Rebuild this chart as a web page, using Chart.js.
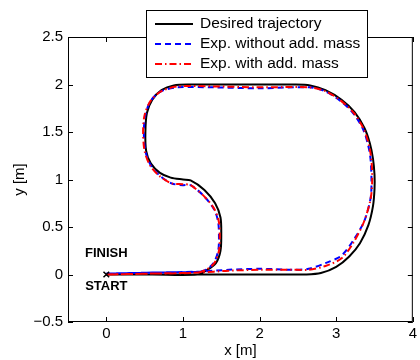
<!DOCTYPE html>
<html>
<head>
<meta charset="utf-8">
<script src="https://cdn.jsdelivr.net/npm/chart.js@4.4.1/dist/chart.umd.min.js"></script>
<style>
  body { margin: 0; background: #fff; }
  canvas { display: block; }
</style>
</head>
<body>
<canvas id="trajChart" width="420" height="360"></canvas>
<script>
// desired trajectory (closed loop, starts and ends at the origin)
const desiredX = [0, 0.6, 1.2, 1.8, 2.3, 2.6, 2.8, 3.0, 3.17, 3.31, 3.42, 3.48, 3.5, 3.5, 3.48, 3.44, 3.37, 3.24, 3.07, 2.86, 2.66, 2.45,
  2.0, 1.5, 1.1, 0.88, 0.72, 0.6, 0.53, 0.51, 0.52, 0.58, 0.7, 0.84, 1.0, 1.1, 1.28, 1.42, 1.49, 1.5, 1.49, 1.43, 1.3, 1.19, 0.6, 0];
const desiredY = [0, 0, 0, 0, 0, 0, 0.015, 0.08, 0.19, 0.33, 0.52, 0.72, 0.9, 1.05, 1.22, 1.38, 1.54, 1.71, 1.84, 1.94, 1.99, 2.0,
  2.0, 2.0, 2.0, 1.99, 1.94, 1.84, 1.7, 1.5, 1.3, 1.17, 1.07, 1.02, 1.0, 0.99, 0.89, 0.75, 0.6, 0.42, 0.25, 0.12, 0.04, 0, 0, 0];

// experiment without added mass
const noMassX = [0, 0.6, 1.2, 1.6, 2.0, 2.43, 2.64, 2.86, 3.07, 3.24, 3.37, 3.45, 3.46, 3.45, 3.42, 3.35, 3.22, 3.05, 2.85, 2.65,
  2.0, 1.4, 0.93, 0.72, 0.58, 0.51, 0.49, 0.51, 0.58, 0.7, 0.85, 1.0, 1.1, 1.28, 1.41, 1.46, 1.47, 1.46, 1.4, 1.3, 1.2, 0.6, 0];
const noMassY = [0.01, 0.02, 0.03, 0.05, 0.06, 0.05, 0.06, 0.12, 0.2, 0.38, 0.57, 0.81, 1.0, 1.2, 1.35, 1.53, 1.7, 1.83, 1.93, 1.97,
  1.96, 1.97, 1.97, 1.93, 1.83, 1.68, 1.5, 1.3, 1.15, 1.04, 0.96, 0.94, 0.94, 0.82, 0.68, 0.55, 0.4, 0.25, 0.12, 0.05, 0.03, 0.02, 0.01];

// experiment with added mass
const massX = [0, 0.6, 1.2, 1.6, 2.0, 2.4, 2.64, 2.86, 3.07, 3.22, 3.36, 3.45, 3.47, 3.46, 3.43, 3.36, 3.23, 3.06, 2.86, 2.65,
  2.0, 1.4, 0.93, 0.72, 0.58, 0.5, 0.48, 0.5, 0.57, 0.69, 0.85, 1.0, 1.1, 1.28, 1.41, 1.47, 1.48, 1.47, 1.41, 1.3, 1.2, 0.6, 0];
const massY = [0, 0.01, 0.02, 0.04, 0.05, 0.05, 0.05, 0.09, 0.17, 0.33, 0.55, 0.8, 1.0, 1.2, 1.35, 1.53, 1.7, 1.83, 1.93, 1.97,
  1.97, 1.98, 1.98, 1.93, 1.83, 1.68, 1.5, 1.3, 1.15, 1.04, 0.96, 0.95, 0.94, 0.82, 0.69, 0.55, 0.4, 0.25, 0.12, 0.05, 0.02, 0.01, 0];

const startX = [0];
const startY = [0];
const noteText = ['FINISH', 'START'];
const noteX = [0, 0];
const noteY = [0.22, -0.13];

const xTicks = [0, 1, 2, 3, 4];
const yTicks = [-0.5, 0, 0.5, 1, 1.5, 2, 2.5];
const seriesNames = ['Desired trajectory', 'Exp. without add. mass', 'Exp. with add. mass'];

const FONT = 'Liberation Sans, Arial, Helvetica, sans-serif';

function toPoints(xs, ys) {
  return xs.map((v, i) => ({ x: v, y: ys[i] }));
}

function fmt(v) {
  return v < 0 ? '\u2212' + Math.abs(v) : String(v);
}

// MATLAB style box with inward ticks, annotations and legend box
const matlabBox = {
  id: 'matlabBox',
  afterDatasetsDraw(chart) {
    const { ctx, chartArea: a, scales: { x, y } } = chart;
    ctx.save();
    ctx.strokeStyle = '#000';
    ctx.lineWidth = 1;
    ctx.strokeRect(a.left + 0.5, a.top + 0.5, a.right - a.left - 1, a.bottom - a.top - 1);
    ctx.beginPath();
    xTicks.forEach(v => {
      const px = Math.round(x.getPixelForValue(v)) + 0.5;
      ctx.moveTo(px, a.bottom); ctx.lineTo(px, a.bottom - 5);
      ctx.moveTo(px, a.top); ctx.lineTo(px, a.top + 5);
    });
    yTicks.forEach(v => {
      const py = Math.round(y.getPixelForValue(v)) + 0.5;
      ctx.moveTo(a.left, py); ctx.lineTo(a.left + 5, py);
      ctx.moveTo(a.right, py); ctx.lineTo(a.right - 5, py);
    });
    ctx.stroke();

    ctx.fillStyle = '#000';
    ctx.font = 'bold 13px ' + FONT;
    ctx.textAlign = 'center';
    ctx.textBaseline = 'middle';
    noteText.forEach((t, i) => {
      ctx.fillText(t, x.getPixelForValue(noteX[i]), y.getPixelForValue(noteY[i]));
    });

    // legend
    const lx = 146, ly = 10, lw = 221, lh = 67;
    ctx.fillStyle = '#fff';
    ctx.fillRect(lx, ly, lw, lh);
    ctx.strokeRect(lx + 0.5, ly + 0.5, lw, lh);
    ctx.font = '15.5px ' + FONT;
    ctx.textAlign = 'left';
    chart.data.datasets.slice(0, 3).forEach((ds, i) => {
      const ry = 24 + i * 20;
      ctx.strokeStyle = ds.borderColor;
      ctx.lineWidth = ds.borderWidth;
      ctx.setLineDash(ds.borderDash || []);
      ctx.beginPath();
      ctx.moveTo(155, ry); ctx.lineTo(193, ry);
      ctx.stroke();
      ctx.setLineDash([]);
      ctx.fillStyle = '#000';
      ctx.fillText(seriesNames[i], 200, ry);
    });
    ctx.restore();
  }
};

const ctx = document.getElementById('trajChart').getContext('2d');
const trajChart = new Chart(ctx, {
  type: 'scatter',
  data: {
    datasets: [{
      label: seriesNames[0],
      data: toPoints(desiredX, desiredY),
      showLine: true,
      borderColor: '#000000',
      borderWidth: 2,
      pointRadius: 0,
      tension: 0.3,
      order: 3
    }, {
      label: seriesNames[1],
      data: toPoints(noMassX, noMassY),
      showLine: true,
      borderColor: '#0000ff',
      borderWidth: 2,
      borderDash: [6, 4],
      pointRadius: 0,
      tension: 0.3,
      order: 2
    }, {
      label: seriesNames[2],
      data: toPoints(massX, massY),
      showLine: true,
      borderColor: '#ff0000',
      borderWidth: 2,
      borderDash: [7, 3, 1.5, 3],
      pointRadius: 0,
      tension: 0.3,
      order: 1
    }, {
      label: 'start',
      data: toPoints(startX, startY),
      showLine: false,
      pointStyle: 'crossRot',
      pointRadius: 4,
      borderColor: '#000000',
      borderWidth: 1.5,
      order: 0
    }]
  },
  options: {
    responsive: false,
    animation: false,
    layout: { padding: { left: 0, right: 2, top: 37, bottom: 0 } },
    plugins: {
      legend: { display: false },
      tooltip: { enabled: false }
    },
    scales: {
      x: {
        type: 'linear',
        min: -0.5,
        max: 4,
        grid: { display: false, drawTicks: false },
        border: { display: false },
        afterBuildTicks: s => { s.ticks = xTicks.map(v => ({ value: v })); },
        afterFit: s => { s.height = 38; },
        ticks: {
          color: '#000',
          font: { family: FONT, size: 15 },
          padding: 3,
          maxRotation: 0,
          callback: v => fmt(v)
        },
        title: {
          display: true,
          text: 'x [m]',
          color: '#000',
          font: { family: FONT, size: 15 },
          padding: { top: 0, bottom: 0 }
        }
      },
      y: {
        type: 'linear',
        min: -0.5,
        max: 2.5,
        grid: { display: false, drawTicks: false },
        border: { display: false },
        afterBuildTicks: s => { s.ticks = yTicks.map(v => ({ value: v })); },
        afterFit: s => { s.width = 68; },
        ticks: {
          color: '#000',
          font: { family: FONT, size: 15 },
          padding: 5,
          callback: v => fmt(v)
        },
        title: {
          display: true,
          text: 'y [m]',
          color: '#000',
          font: { family: FONT, size: 15 },
          padding: { top: 11, bottom: 0 }
        }
      }
    }
  },
  plugins: [matlabBox]
});
</script>
</body>
</html>
